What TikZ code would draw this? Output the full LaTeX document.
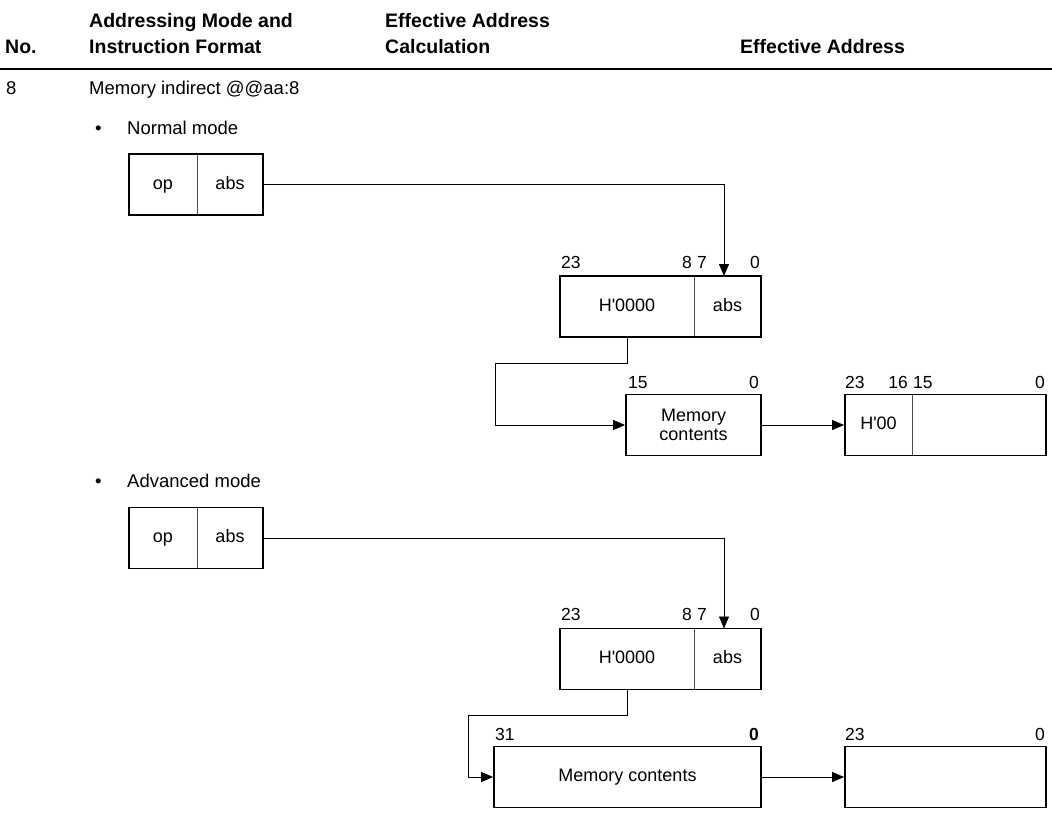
\documentclass[tikz,border=0pt]{standalone}
\usepackage{fontspec}
\setmainfont{Liberation Sans}
\usetikzlibrary{arrows.meta}
\newcommand{\hq}{\textquotesingle}

\begin{document}
\begin{tikzpicture}[x=1pt, y=-1pt,
    field/.style={draw, line width=1.8pt, inner sep=0pt, minimum height=61pt},
    part/.style={inner sep=0pt, minimum height=61pt, text height=13pt, text depth=4pt, font=\fontsize{18}{21}\selectfont},
    bitno/.style={inner sep=0pt, font=\fontsize{17.5}{20}\selectfont},
    divider/.style={line width=0.9pt, black!70},
    wire/.style={line width=0.9pt},
    tip/.style={-{Triangle[length=12pt,width=10pt]}},
    head/.style={anchor=base west, inner sep=0pt, font=\fontsize{19.5}{23}\bfseries},
    body/.style={anchor=base west, inner sep=0pt, font=\fontsize{18.5}{22}\selectfont}]
    \useasboundingbox (0,0) rectangle (1052,820);

    % table header
    \node[head] (hno) at (5,53) {No.};
    \node[head] (hmode1) at (89,27) {Addressing Mode and};
    \node[head] (hmode2) at (89,53) {Instruction Format};
    \node[head] (hcalc1) at (385,27) {Effective Address};
    \node[head] (hcalc2) at (385,53) {Calculation};
    \node[head] (hea) at (740,53) {Effective Address};
    \draw[line width=2pt] (0,69) -- (1052,69);

    \node[body] (rowno) at (6,94) {8};
    \node[body] (rowname) at (89,94) {Memory indirect @@aa:8};

    % normal mode
    \node[body] (dotA) at (95,134) {•};
    \node[body] (modeA) at (127,134) {Normal mode};

    \node[field, minimum width=134pt] (insA) at (196,184.5) {};
    \node[part] (opA) at (163,184.5) {op};
    \node[part] (absA) at (230,184.5) {abs};
    \draw[divider] (197,154) -- (197,215);

    \node[field, minimum width=201pt] (regA) at (660.5,306.5) {};
    \node[part, minimum width=134pt] (hiA) at (627,306.5) {H\hq 0000};
    \node[part] (loA) at (727.5,306.5) {abs};
    \draw[divider] (694,277) -- (694,336);
    \node[bitno, anchor=base west] (rA23) at (561,268) {23};
    \node[bitno, anchor=base east] (rA8) at (692,268) {8};
    \node[bitno, anchor=base west] (rA7) at (697,268) {7};
    \node[bitno, anchor=base east] (rA0) at (760,268) {0};
    \coordinate (inA) at (724,276);
    \draw[wire, tip] (insA.east) -| (inA);

    \node[field, minimum width=135pt, align=center, font=\fontsize{18}{19}\selectfont] (memA) at (693.5,425) {Memory\\contents};
    \node[bitno, anchor=base west] (mA15) at (628,388) {15};
    \node[bitno, anchor=base east] (mA0) at (759,388) {0};
    \coordinate (bendA) at (495,363);
    \draw[wire] (hiA.south) |- (bendA);
    \draw[wire, tip] (bendA) |- (memA.west);

    \node[field, minimum width=201pt] (eaA) at (945.5,425) {};
    \node[part, minimum width=67pt] (eahA) at (878.5,425) {H\hq 00};
    \draw[divider] (912,395) -- (912,455);
    \node[bitno, anchor=base west] (eA23) at (845,388) {23};
    \node[bitno, anchor=base east] (eA16) at (908,388) {16};
    \node[bitno, anchor=base west] (eA15) at (913,388) {15};
    \node[bitno, anchor=base east] (eA0) at (1045,388) {0};
    \draw[wire, tip] (memA.east) -- (eaA.west);

    % advanced mode
    \node[body] (dotB) at (95,487) {•};
    \node[body] (modeB) at (127,487) {Advanced mode};

    \node[field, minimum width=134pt] (insB) at (196,538) {};
    \node[part] (opB) at (163,538) {op};
    \node[part] (absB) at (230,538) {abs};
    \draw[divider] (197,508) -- (197,568);

    \node[field, minimum width=201pt] (regB) at (660.5,659) {};
    \node[part, minimum width=134pt] (hiB) at (627,659) {H\hq 0000};
    \node[part] (loB) at (727.5,659) {abs};
    \draw[divider] (694,629) -- (694,689);
    \node[bitno, anchor=base west] (rB23) at (561,620) {23};
    \node[bitno, anchor=base east] (rB8) at (692,620) {8};
    \node[bitno, anchor=base west] (rB7) at (697,620) {7};
    \node[bitno, anchor=base east] (rB0) at (760,620) {0};
    \coordinate (inB) at (724,628.5);
    \draw[wire, tip] (insB.east) -| (inB);

    \node[field, minimum width=267pt, font=\fontsize{18}{21}\selectfont] (memB) at (627.5,777) {Memory contents};
    \node[bitno, anchor=base west] (mB31) at (495,740) {31};
    \node[bitno, anchor=base east, font=\fontsize{17.5}{20}\bfseries] (mB0) at (759,740) {0};
    \coordinate (bendB) at (468,715);
    \draw[wire] (hiB.south) |- (bendB);
    \draw[wire, tip] (bendB) |- (memB.west);

    \node[field, minimum width=201pt] (eaB) at (945.5,777) {};
    \node[bitno, anchor=base west] (eB23) at (845,740) {23};
    \node[bitno, anchor=base east] (eB0) at (1045,740) {0};
    \draw[wire, tip] (memB.east) -- (eaB.west);
\end{tikzpicture}
\end{document}
